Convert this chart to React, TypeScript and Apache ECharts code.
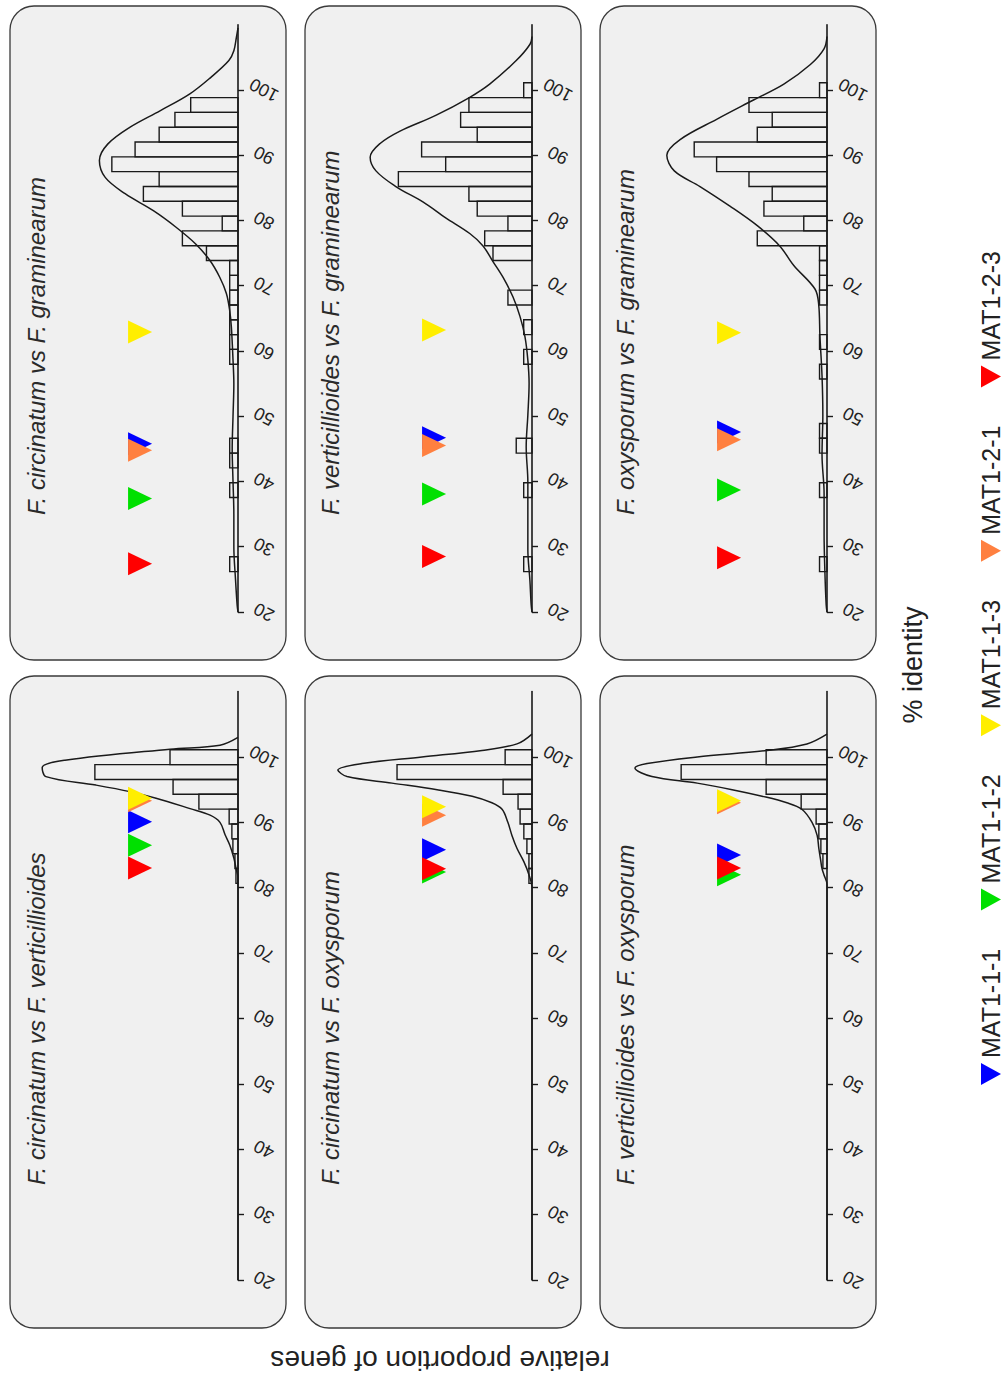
import React, { useEffect, useRef } from "react";
import * as echarts from "echarts";

// ---------------- DATA ----------------
// histogram bin edges (% identity), top to bottom
const BIN_EDGES = [101.1, 98.83, 96.56, 94.29, 92.02, 89.75, 87.48, 85.21, 82.94, 80.67, 78.4, 76.13, 73.86, 71.59, 69.32, 67.05, 64.78, 62.51, 60.24, 57.97, 55.7, 53.43, 51.16, 48.89, 46.62, 44.35, 42.08, 39.81, 37.54, 35.27, 33.0, 30.73, 28.46, 26.19, 23.92, 21.65, 19.38];

const IDENTITY_TICKS = [20, 30, 40, 50, 60, 70, 80, 90, 100];

const GENES = ["MAT1-1-1", "MAT1-1-2", "MAT1-1-3", "MAT1-2-1", "MAT1-2-3"];
const GENE_COLORS = ["#0000ff", "#00e000", "#ffee00", "#ff8040", "#ff0000"];
const DRAW_ORDER = [0, 1, 3, 2, 4];

const TITLES = [
  "F. circinatum vs F. graminearum",
  "F. verticillioides vs F. graminearum",
  "F. oxysporum vs F. graminearum",
  "F. circinatum vs F. verticillioides",
  "F. circinatum vs F. oxysporum",
  "F. verticillioides vs F. oxysporum",
];

// relative proportion of genes per bin (%)
const histCircGram = [0, 5.7, 7.6, 9.5, 12.4, 15.2, 9.5, 11.4, 6.7, 1.9, 6.7, 3.8, 1.0, 1.0, 1.0, 1.0, 1.0, 1.0, 1.0, 0, 0, 0, 0, 0, 1.0, 1.0, 0, 1.0, 0, 0, 0, 0, 1.0, 0, 0, 0];
const histVertGram = [1.0, 7.6, 8.6, 6.6, 13.3, 10.4, 16.1, 7.6, 6.6, 2.9, 5.7, 4.7, 0, 0, 2.9, 0, 1.0, 0, 1.0, 0, 0, 0, 0, 0, 1.9, 0, 0, 1.0, 0, 0, 0, 0, 1.0, 0, 0, 0];
const histOxyGram = [0.9, 9.4, 6.6, 8.4, 16.0, 13.3, 9.4, 6.6, 7.6, 2.8, 8.4, 0.9, 0.9, 0.9, 0.9, 0, 0, 0.9, 0, 0.9, 0, 0, 0, 0.9, 0.9, 0, 0, 0.9, 0, 0, 0, 0, 0.9, 0, 0, 0];
const histCircVert = [20.0, 42.1, 19.1, 11.5, 2.6, 1.8, 1.5, 0.9, 0.6, 0, 0, 0, 0, 0, 0, 0, 0, 0, 0, 0, 0, 0, 0, 0, 0, 0, 0, 0, 0, 0, 0, 0, 0, 0, 0, 0];
const histCircOxy = [7.9, 39.7, 8.5, 4.1, 3.5, 2.4, 1.5, 0.9, 0.9, 0, 0, 0, 0, 0, 0, 0, 0, 0, 0, 0, 0, 0, 0, 0, 0, 0, 0, 0, 0, 0, 0, 0, 0, 0, 0, 0];
const histVertOxy = [17.9, 42.9, 17.9, 7.6, 3.2, 2.4, 1.8, 1.2, 0, 0, 0, 0, 0, 0, 0, 0, 0, 0, 0, 0, 0, 0, 0, 0, 0, 0, 0, 0, 0, 0, 0, 0, 0, 0, 0, 0];

// density curves: [identity, proportion]
const curveCircGram = [[109.5, 0], [108, 0.2], [106, 0.5], [104.5, 1.1], [101.9, 3.3], [99.4, 5.8], [96.8, 9.4], [94.3, 13.0], [91.7, 15.7], [89.2, 16.7], [86.6, 16.0], [84.1, 13.6], [81.5, 10.2], [79, 7.5], [76.4, 5.1], [73.9, 3.4], [71.3, 2.2], [68.8, 1.4], [66.2, 1.0], [63.7, 0.8], [58.6, 0.6], [55, 0.5], [50, 0.6], [45, 0.7], [40, 0.6], [35, 0.5], [30, 0.5], [25, 0.3], [21, 0.1], [20, 0]];
const curveVertGram = [[108.2, 0], [107, 0.24], [104.5, 1.9], [100.9, 5.1], [98.8, 7.6], [96.1, 11.6], [93.7, 15.9], [91.8, 18.3], [89.7, 19.5], [87.6, 18.8], [85.2, 16.4], [82.8, 13.1], [80.4, 10.4], [78, 7.5], [76.1, 5.9], [73.7, 4.7], [71.3, 3.5], [68.3, 2.3], [65.3, 1.45], [62.2, 0.85], [58.6, 0.5], [55, 0.35], [50.2, 0.5], [45.3, 0.7], [39.9, 0.5], [35, 0.5], [29.6, 0.5], [24.8, 0.25], [21.1, 0.1], [20, 0]];
const curveOxyGram = [[108.2, 0], [106.3, 0.36], [103.9, 2.0], [100.9, 5.2], [98.5, 8.8], [95.5, 13.3], [92.4, 17.7], [90, 19.3], [87.6, 18.4], [85.2, 15.3], [82.2, 11.7], [79.2, 8.4], [76.1, 5.7], [73.1, 4.0], [69.5, 1.45], [67.1, 1.0], [62.2, 0.85], [56.2, 0.6], [50.2, 0.5], [44.1, 0.6], [38.1, 0.35], [32, 0.35], [26, 0.25], [21.1, 0.1], [20, 0]];
const curveCircVert = [[103, 0], [101.8, 5.3], [101.2, 20], [99.5, 50.9], [98.4, 57.6], [97, 56.5], [95.7, 41.8], [94.7, 31.8], [93.7, 24.1], [92.1, 14.1], [91.1, 8.2], [90, 5.3], [88.1, 3.8], [86.5, 2.4], [84.5, 1.2], [83, 0.6], [81.5, 0], [20, 0]];
const curveCircOxy = [[103.5, 0], [102, 4.4], [101, 14.7], [100, 32.4], [99, 50], [98, 57.1], [97, 54.4], [96, 41.2], [95, 27.9], [94, 17.6], [93, 11.8], [92, 8.8], [90, 7.1], [88, 5.9], [86, 4.4], [84, 2.4], [82, 0.9], [80, 0], [20, 0]];
const curveVertOxy = [[103.5, 0], [102, 5.9], [101, 17.6], [100, 38.2], [99, 52.9], [98.3, 56.5], [97, 51.5], [96, 38.2], [95, 27.9], [94, 19.1], [93, 11.8], [92, 7.4], [90, 4.4], [88, 2.9], [86, 2.4], [84, 1.8], [83, 1.5], [82, 0.9], [80.5, 0], [20, 0]];

// % identity of each MAT gene (GENES order)
const matCircGram = [45.8, 37.4, 62.9, 44.8, 27.4];
const matVertGram = [46.7, 38.1, 63.2, 45.5, 28.5];
const matOxyGram = [47.6, 38.7, 62.8, 46.4, 28.3];
const matCircVert = [90.1, 86.5, 93.7, 93.3, 83.0];
const matCircOxy = [85.8, 82.4, 92.4, 91.1, 82.9];
const matVertOxy = [85.0, 82.0, 93.3, 93.0, 83.0];

// proportion-axis extent and marker level per row
const ROW_XMAX = [24.7, 60.3];
const ROW_MARKER = [11.8, 28.8];

// ---------------- LAYOUT ----------------
const FONT = "'Liberation Sans', Arial, Helvetica, sans-serif";
const PANEL_X = [10, 305, 600];
const PANEL_W = 276;
const AXIS_X = [238, 532, 827];
const GRID_W = 205;
const ROW_PANEL_Y = [6, 676];
const ROW_PANEL_H = [654, 652];
const ROW_GRID_TOP = [24.7, 691.6];
const ROW_GRID_BOTTOM = [612, 1280];
const ROW_TITLE_Y = [515, 1185];
const TITLE_X = [36, 330, 625];

const PANELS = [
  { hist: histCircGram, curve: curveCircGram, mat: matCircGram },
  { hist: histVertGram, curve: curveVertGram, mat: matVertGram },
  { hist: histOxyGram, curve: curveOxyGram, mat: matOxyGram },
  { hist: histCircVert, curve: curveCircVert, mat: matCircVert },
  { hist: histCircOxy, curve: curveCircOxy, mat: matCircOxy },
  { hist: histVertOxy, curve: curveVertOxy, mat: matVertOxy },
];

function buildOption() {
  const grid: any[] = [];
  const xAxis: any[] = [];
  const yAxis: any[] = [];
  const series: any[] = [];
  const graphic: any[] = [];

  PANELS.forEach((p, i) => {
    const row = i < 3 ? 0 : 1;
    const col = i % 3;
    graphic.push({
      type: "rect",
      z: -10,
      shape: { x: PANEL_X[col], y: ROW_PANEL_Y[row], width: PANEL_W, height: ROW_PANEL_H[row], r: 24 },
      style: { fill: "#f0f0f0", stroke: "#3a3a3a", lineWidth: 1.3 },
    });
    graphic.push({
      type: "text",
      z: 10,
      x: TITLE_X[col],
      y: ROW_TITLE_Y[row],
      rotation: Math.PI / 2,
      style: {
        text: TITLES[i],
        fontSize: 24,
        fontStyle: "italic",
        fontFamily: FONT,
        fill: "#2a2a2a",
        align: "left",
        textAlign: "left",
        verticalAlign: "middle",
        textVerticalAlign: "middle",
      },
    });

    grid.push({
      left: AXIS_X[col] - GRID_W,
      width: GRID_W,
      top: ROW_GRID_TOP[row],
      height: ROW_GRID_BOTTOM[row] - ROW_GRID_TOP[row],
      containLabel: false,
    });
    xAxis.push({
      gridIndex: i,
      type: "value",
      inverse: true,
      min: 0,
      max: ROW_XMAX[row],
      show: false,
    });
    yAxis.push({
      gridIndex: i,
      type: "value",
      position: "right",
      min: 20,
      max: 110,
      interval: 10,
      splitLine: { show: false },
      axisLine: { show: true, lineStyle: { color: "#1a1a1a", width: 1.6 } },
      axisTick: { show: true, length: 6, customValues: IDENTITY_TICKS, lineStyle: { color: "#1a1a1a", width: 1.4 } },
      axisLabel: {
        show: true,
        customValues: IDENTITY_TICKS,
        rotate: 152,
        margin: 26,
        align: "center",
        verticalAlign: "middle",
        fontSize: 18,
        fontFamily: FONT,
        color: "#222",
      },
    });

    const histData = p.hist
      .map((v, k) => [BIN_EDGES[k + 1], BIN_EDGES[k], v])
      .filter((d) => d[2] > 0);
    series.push({
      type: "custom",
      xAxisIndex: i,
      yAxisIndex: i,
      z: 2,
      data: histData,
      encode: { x: 2, y: [0, 1] },
      renderItem: (params: any, api: any) => {
        const lo = api.value(0);
        const hi = api.value(1);
        const v = api.value(2);
        const a = api.coord([0, hi]);
        const b = api.coord([v, lo]);
        return {
          type: "rect",
          shape: { x: Math.min(a[0], b[0]), y: a[1], width: Math.abs(b[0] - a[0]), height: b[1] - a[1] },
          style: { fill: "none", stroke: "#1a1a1a", lineWidth: 1.4 },
        };
      },
    });

    series.push({
      type: "line",
      xAxisIndex: i,
      yAxisIndex: i,
      z: 3,
      smooth: 0.35,
      symbol: "none",
      lineStyle: { color: "#1a1a1a", width: 1.5 },
      data: p.curve.map((c) => [c[1], c[0]]),
    });

    series.push({
      type: "scatter",
      xAxisIndex: i,
      yAxisIndex: i,
      z: 4,
      symbol: "triangle",
      symbolRotate: -90,
      symbolSize: [23, 24],
      data: DRAW_ORDER.map((g) => ({
        name: GENES[g],
        value: [ROW_MARKER[row], p.mat[g]],
        itemStyle: { color: GENE_COLORS[g], opacity: 1 },
      })),
    });
  });

  // axis titles
  graphic.push({
    type: "text",
    z: 10,
    x: 913,
    y: 665,
    rotation: Math.PI / 2,
    style: {
      text: "% identity",
      fontSize: 27,
      fontFamily: FONT,
      fill: "#222",
      align: "center",
      textAlign: "center",
      verticalAlign: "middle",
      textVerticalAlign: "middle",
    },
  });
  graphic.push({
    type: "text",
    z: 10,
    x: 440,
    y: 1360,
    rotation: Math.PI,
    style: {
      text: "relative proportion of genes",
      fontSize: 28,
      fontFamily: FONT,
      fill: "#222",
      align: "center",
      textAlign: "center",
      verticalAlign: "middle",
      textVerticalAlign: "middle",
    },
  });

  // legend
  GENES.forEach((g, i) => {
    const yb = 1085 - i * 174.4;
    graphic.push({
      type: "polygon",
      z: 10,
      shape: { points: [[981, yb - 22], [981, yb], [1001, yb - 11]] },
      style: { fill: GENE_COLORS[i] },
    });
    graphic.push({
      type: "text",
      z: 10,
      x: 991,
      y: yb - 27,
      rotation: Math.PI / 2,
      style: {
        text: g,
        fontSize: 25,
        fontFamily: FONT,
        fill: "#222",
        align: "left",
        textAlign: "left",
        verticalAlign: "middle",
        textVerticalAlign: "middle",
      },
    });
  });

  return {
    animation: false,
    backgroundColor: "#ffffff",
    grid,
    xAxis,
    yAxis,
    series,
    graphic: { elements: graphic },
  };
}

export default function App() {
  const ref = useRef<HTMLDivElement>(null);
  useEffect(() => {
    document.body.style.margin = "0";
    if (!ref.current) return;
    const chart = echarts.init(ref.current, undefined, { renderer: "svg" });
    chart.setOption(buildOption() as any);
    return () => chart.dispose();
  }, []);
  return <div ref={ref} style={{ position: "absolute", left: 0, top: 0, width: 1006, height: 1378 }} />;
}
